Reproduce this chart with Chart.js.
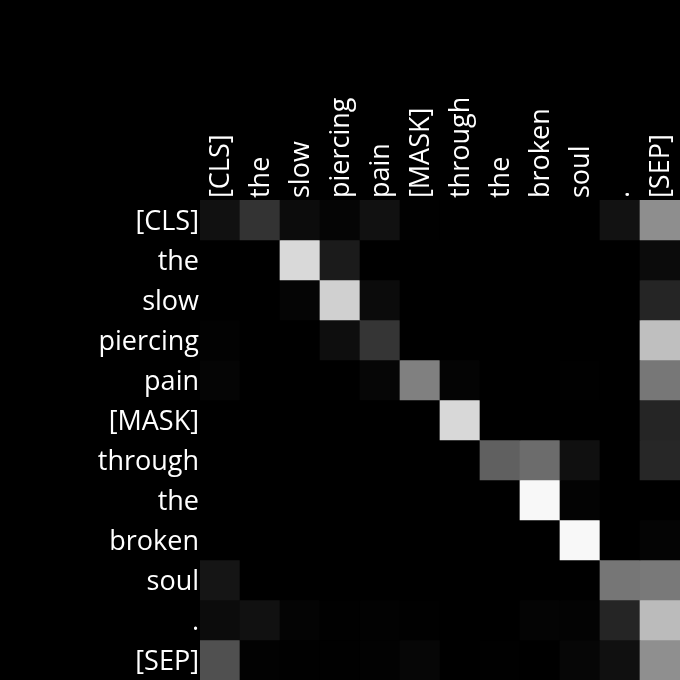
<!DOCTYPE html>
<html><head><meta charset="utf-8">
<script src="https://cdn.jsdelivr.net/npm/chart.js@4"></script>
<style>html,body{margin:0;padding:0;background:#000;}canvas{display:block;}</style>
</head><body>
<canvas id="c" width="680" height="680"></canvas>
<script>
const tokens = ['[CLS]','the','slow','piercing','pain','[MASK]','through','the','broken','soul','.','[SEP]'];

// attention weights, one array per query token (row), read from gray levels
const row_CLS      = [0.067,0.200,0.047,0.020,0.067,0.004,0.000,0.000,0.000,0.000,0.071,0.557];
const row_the1     = [0.000,0.000,0.851,0.106,0.000,0.000,0.000,0.000,0.000,0.000,0.000,0.043];
const row_slow     = [0.000,0.000,0.020,0.816,0.043,0.000,0.000,0.000,0.000,0.000,0.000,0.145];
const row_piercing = [0.008,0.000,0.000,0.055,0.208,0.000,0.000,0.000,0.000,0.000,0.000,0.749];
const row_pain     = [0.020,0.000,0.000,0.000,0.024,0.502,0.016,0.000,0.000,0.004,0.000,0.467];
const row_MASK     = [0.000,0.000,0.000,0.000,0.000,0.000,0.847,0.000,0.000,0.000,0.000,0.145];
const row_through  = [0.000,0.000,0.000,0.000,0.000,0.000,0.000,0.376,0.424,0.063,0.000,0.153];
const row_the2     = [0.000,0.000,0.000,0.000,0.000,0.000,0.000,0.000,0.973,0.012,0.000,0.000];
const row_broken   = [0.000,0.000,0.000,0.000,0.000,0.000,0.000,0.000,0.000,0.973,0.000,0.016];
const row_soul     = [0.082,0.000,0.000,0.000,0.000,0.000,0.000,0.000,0.000,0.000,0.463,0.475];
const row_period   = [0.047,0.067,0.016,0.004,0.008,0.004,0.000,0.000,0.016,0.012,0.145,0.733];
const row_SEP      = [0.314,0.008,0.004,0.004,0.008,0.024,0.000,0.004,0.000,0.024,0.063,0.561];

const rows = [row_CLS,row_the1,row_slow,row_piercing,row_pain,row_MASK,row_through,row_the2,row_broken,row_soul,row_period,row_SEP];

function gray(v){ const g = Math.round(Math.max(0,Math.min(1,v))*255); return `rgb(${g},${g},${g})`; }

const datasets = rows.map((vals, r) => ({
  label: tokens[r],
  data: tokens.map(() => [r - 0.5, r + 0.5]),
  backgroundColor: vals.map(gray),
  borderWidth: 0,
  grouped: false,
  categoryPercentage: 1,
  barPercentage: 1
}));

const font = {family: "'Open Sans', 'Noto Sans', sans-serif", size: 27};

new Chart(document.getElementById('c'), {
  type: 'bar',
  data: { labels: tokens, datasets },
  options: {
    responsive: false,
    animation: false,
    layout: { padding: 0 },
    plugins: { legend: {display:false}, tooltip: {enabled:false} },
    scales: {
      x: {
        type: 'category',
        position: 'top',
        grid: {display:false, drawTicks:false},
        border: {display:false},
        ticks: {color:'#fff', font, maxRotation:90, minRotation:90, autoSkip:false, padding:2, labelOffset:34},
        afterFit: s => { s.height = 200; s.paddingLeft = 0; s.paddingRight = 0; }
      },
      y: {
        type: 'linear',
        reverse: true,
        min: -0.5,
        max: 11.5,
        grid: {display:false, drawTicks:false},
        border: {display:false},
        afterBuildTicks: s => { s.ticks = tokens.map((_, i) => ({value: i})); },
        ticks: {color:'#fff', font, autoSkip:false, padding:1, labelOffset:2, callback: v => tokens[v]},
        afterFit: s => { s.width = 200; s.paddingTop = 0; s.paddingBottom = 0; }
      }
    }
  }
});
</script>
</body></html>
